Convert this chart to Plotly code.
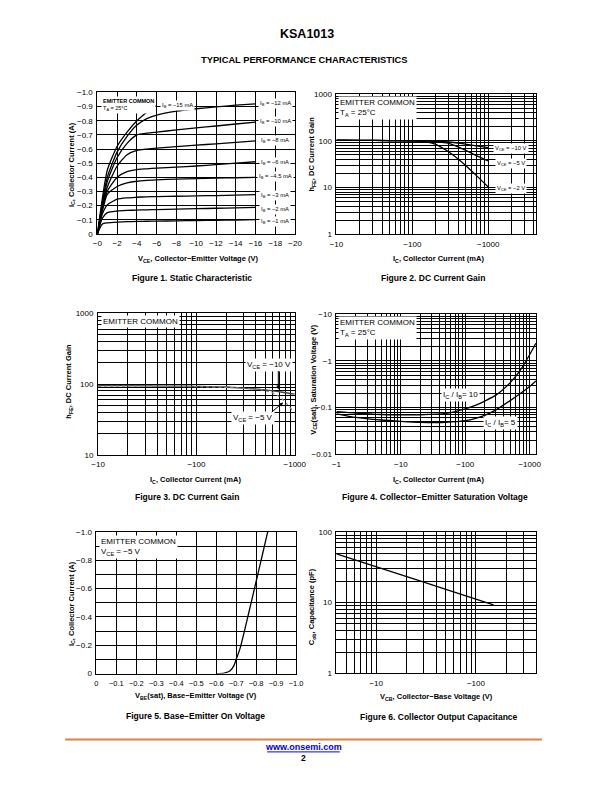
import plotly.graph_objects as go

FONT = "Liberation Sans, Arial, Helvetica, sans-serif"
W, H = 612, 792

# ---------------- DATA ----------------
# Figure 1: Static characteristic (V_CE in V, I_C in A)
f1_vce = [0, -0.5, -1, -2, -3, -4, -5, -6, -8, -10, -12, -14, -16]
f1_ic_12 = [0, -0.22, -0.40, -0.58, -0.69, -0.77, -0.815, -0.84, -0.868, -0.885, -0.898, -0.91, -0.92]
f1_ic_10 = [0, -0.20, -0.37, -0.54, -0.64, -0.70, -0.712, -0.72, -0.735, -0.75, -0.763, -0.777, -0.79]
f1_ic_8 = [0, -0.19, -0.33, -0.48, -0.56, -0.59, -0.60, -0.607, -0.617, -0.627, -0.637, -0.647, -0.658]
f1_ic_6 = [0, -0.18, -0.30, -0.40, -0.44, -0.455, -0.46, -0.465, -0.472, -0.48, -0.49, -0.50, -0.51]
f1_ic_45 = [0, -0.16, -0.28, -0.335, -0.36, -0.372, -0.378, -0.382, -0.387, -0.391, -0.394, -0.397, -0.40]
f1_ic_3 = [0, -0.14, -0.205, -0.245, -0.255, -0.259, -0.262, -0.264, -0.266, -0.269, -0.271, -0.274, -0.277]
f1_ic_2 = [0, -0.11, -0.15, -0.162, -0.166, -0.168, -0.17, -0.172, -0.175, -0.178, -0.181, -0.184, -0.187]
f1_ic_1 = [0, -0.07, -0.078, -0.083, -0.086, -0.088, -0.089, -0.09, -0.092, -0.094, -0.096, -0.098, -0.10]
f1_vce_15 = [0, -0.5, -1, -2, -3, -4, -5, -6]
f1_ic_15 = [0, -0.25, -0.45, -0.62, -0.72, -0.80, -0.86, -0.91]
f1_labels = ["I<sub>B</sub> = \u221212 mA", "I<sub>B</sub> = \u221210 mA", "I<sub>B</sub> = \u22128 mA",
             "I<sub>B</sub> = \u22126 mA", "I<sub>B</sub> = \u22124.5 mA", "I<sub>B</sub> = \u22123 mA",
             "I<sub>B</sub> = \u22122 mA", "I<sub>B</sub> = \u22121 mA"]
f1_label_15 = "I<sub>B</sub> = \u221215 mA"
f1_xticks = [0, -2, -4, -6, -8, -10, -12, -14, -16, -18, -20]
f1_xtext = ["\u22120", "\u22122", "\u22124", "\u22126", "\u22128", "\u221210", "\u221212", "\u221214", "\u221216", "\u221218", "\u221220"]
f1_yticks = [-1.0, -0.9, -0.8, -0.7, -0.6, -0.5, -0.4, -0.3, -0.2, -0.1, 0]
f1_ytext = ["\u22121.0", "\u22120.9", "\u22120.8", "\u22120.7", "\u22120.6", "\u22120.5", "\u22120.4", "\u22120.3", "\u22120.2", "\u22120.1", "0"]

# Figure 2: DC current gain (I_C in mA)
f2_ic = [-10, -20, -50, -100, -150, -200, -300, -500, -700, -1000]
f2_hfe_10 = [103, 102, 101, 100, 99, 98, 94, 85, 78, 71]
f2_hfe_5 = [103, 102, 101, 100, 99, 96, 88, 63, 48, 37]
f2_hfe_2 = [103, 102, 101, 99, 95, 85, 58, 30, 18, 10.3]
f2_labels = ["V<sub>CE</sub> = \u221210 V", "V<sub>CE</sub> = \u22125 V", "V<sub>CE</sub> = \u22122 V"]
f2_xticks = [10, 100, 1000]
f2_xtext = ["\u221210", "\u2212100", "\u22121000"]
f2_yticks = [1, 10, 100, 1000]
f2_ytext = ["1", "10", "100", "1000"]

# Figure 3: DC current gain
f3_ic_10 = [-10, -20, -50, -100, -200, -300, -500, -700, -1000]
f3_hfe_10 = [95, 95, 94, 93, 91, 88, 83, 78, 72]
f3_ic_5 = [-10, -20, -50, -100, -200, -300, -500, -700, -950]
f3_hfe_5 = [93, 94, 93, 92, 90, 87, 81, 66, 42]
f3_labels = ["V<sub>CE</sub> = \u221210 V", "V<sub>CE</sub> = \u22125 V"]
f3_xticks = [10, 100, 1000]
f3_xtext = ["\u221210", "\u2212100", "\u22121000"]
f3_yticks = [10, 100, 1000]
f3_ytext = ["10", "100", "1000"]

# Figure 4: Collector-emitter saturation voltage (V)
f4_ic = [-1, -2, -5, -10, -20, -50, -100, -150, -200, -300, -500, -700, -1000, -1250]
f4_vsat_10 = [-0.082, -0.076, -0.071, -0.070, -0.070, -0.075, -0.094, -0.114, -0.138, -0.185, -0.343, -0.605, -1.36, -2.4]
f4_vsat_5 = [-0.0735, -0.0615, -0.054, -0.0506, -0.0482, -0.0482, -0.0522, -0.0596, -0.0678, -0.0893, -0.141, -0.195, -0.282, -0.372]
f4_labels = ["I<sub>C</sub> / I<sub>B</sub>= 10", "I<sub>C</sub> / I<sub>B</sub>= 5"]
f4_xticks = [1, 10, 100, 1000]
f4_xtext = ["\u22121", "\u221210", "\u2212100", "\u22121000"]
f4_yticks = [0.01, 0.1, 1, 10]
f4_ytext = ["\u22120.01", "\u22120.1", "\u22121", "\u221210"]

# Figure 5: Base-emitter on voltage
f5_vbe = [-0.60, -0.64, -0.67, -0.69, -0.70, -0.72, -0.76, -0.80, -0.83, -0.858]
f5_ic = [0.0, -0.004, -0.02, -0.06, -0.10, -0.18, -0.41, -0.65, -0.83, -1.0]
f5_xticks = [0, -0.1, -0.2, -0.3, -0.4, -0.5, -0.6, -0.7, -0.8, -0.9, -1.0]
f5_xtext = ["0", "\u22120.1", "\u22120.2", "\u22120.3", "\u22120.4", "\u22120.5", "\u22120.6", "\u22120.7", "\u22120.8", "\u22120.9", "\u22121.0"]
f5_yticks = [-1.0, -0.8, -0.6, -0.4, -0.2, 0]
f5_ytext = ["\u22121.0", "\u22120.8", "\u22120.6", "\u22120.4", "\u22120.2", "0"]
f5_ygrid = [-0.9, -0.7, -0.5, -0.3, -0.1]

# Figure 6: Collector output capacitance
f6_vcb = [-4, -10, -20, -30, -50, -100, -150]
f6_cob = [49, 32.5, 23.5, 19.5, 15.4, 11.3, 9.3]
f6_xticks = [10, 100]
f6_xtext = ["\u221210", "\u2212100"]
f6_yticks = [1, 10, 100]
f6_ytext = ["1", "10", "100"]


# ---------------- HELPERS ----------------
def log_grid(e0, e1, extra=()):
    vals = []
    for e in range(e0, e1):
        for d in range(2, 10):
            vals.append(d * 10 ** e)
    vals.extend(extra)
    return vals


def px_x(p):
    return p / W


def px_y(p):
    return 1 - p / H


def axis(domain, rng, typ, tickvals, ticktext, anchor, minor_vals=None, size=8):
    d = dict(domain=domain, range=rng, type=typ, tickmode="array", tickvals=tickvals,
             ticktext=ticktext, showgrid=True, gridcolor="black", gridwidth=1, showline=True,
             linecolor="black", linewidth=1, mirror=True, ticks="", zeroline=False,
             tickfont=dict(size=size, color="black", family=FONT), anchor=anchor,
             fixedrange=True, ticklabelstandoff=2)
    if minor_vals:
        d["minor"] = dict(tickmode="array", tickvals=minor_vals, showgrid=True,
                          gridcolor="black", gridwidth=1, ticks="")
    return d


fig = go.Figure()
line_k = dict(color="black", width=1.3, shape="spline", smoothing=0.6)

# Figure 1 traces
for ys in [f1_ic_12, f1_ic_10, f1_ic_8, f1_ic_6, f1_ic_45, f1_ic_3, f1_ic_2, f1_ic_1]:
    fig.add_trace(go.Scatter(x=f1_vce, y=ys, mode="lines", line=line_k, xaxis="x", yaxis="y"))
fig.add_trace(go.Scatter(x=f1_vce_15, y=f1_ic_15, mode="lines", line=line_k, xaxis="x", yaxis="y"))

# Figure 2 traces (log axis -> magnitudes)
for ys in [f2_hfe_10, f2_hfe_5, f2_hfe_2]:
    fig.add_trace(go.Scatter(x=[abs(v) for v in f2_ic], y=ys, mode="lines", line=line_k,
                             xaxis="x2", yaxis="y2"))

# Figure 3 traces
fig.add_trace(go.Scatter(x=[abs(v) for v in f3_ic_10], y=f3_hfe_10, mode="lines",
                         line=dict(color="#444444", width=1.3, shape="spline"), xaxis="x3", yaxis="y3"))
fig.add_trace(go.Scatter(x=[abs(v) for v in f3_ic_5], y=f3_hfe_5, mode="lines",
                         line=dict(color="#888888", width=1.2, dash="dot", shape="spline"), xaxis="x3", yaxis="y3"))

# Figure 4 traces
for ys in [f4_vsat_10, f4_vsat_5]:
    fig.add_trace(go.Scatter(x=[abs(v) for v in f4_ic], y=[abs(v) for v in ys], mode="lines",
                             line=line_k, xaxis="x4", yaxis="y4"))

# Figure 5 trace
fig.add_trace(go.Scatter(x=f5_vbe, y=f5_ic, mode="lines", line=line_k, xaxis="x5", yaxis="y5"))

# Figure 6 trace
fig.add_trace(go.Scatter(x=[abs(v) for v in f6_vcb], y=f6_cob, mode="lines",
                         line=dict(color="black", width=1.3), xaxis="x6", yaxis="y6"))

# plot-area pixel boxes
B1 = (93.3, 297.3, 89.5, 232.5)
B2 = (340, 546, 91, 233)
B3 = (94, 297, 313, 456)
B4 = (340, 546, 314, 455.3)
B5 = (92.3, 298.3, 534, 677.3)
B6 = (340, 546, 534, 677)


def dom(b):
    return [px_x(b[0]), px_x(b[1])], [px_y(b[3]), px_y(b[2])]


d1x, d1y = dom(B1)
d2x, d2y = dom(B2)
d3x, d3y = dom(B3)
d4x, d4y = dom(B4)
d5x, d5y = dom(B5)
d6x, d6y = dom(B6)

fig.update_layout(
    xaxis=axis(d1x, [0, -20], "linear", f1_xticks, f1_xtext, "y"),
    yaxis=axis(d1y, [0, -1.0], "linear", f1_yticks, f1_ytext, "x"),
    xaxis2=axis(d2x, [1, 3.63], "log", f2_xticks, f2_xtext, "y2", log_grid(1, 3, (2000, 3000, 4000))),
    yaxis2=axis(d2y, [0, 3], "log", f2_yticks, f2_ytext, "x2", log_grid(0, 3)),
    xaxis3=axis(d3x, [1, 3], "log", f3_xticks, f3_xtext, "y3", log_grid(1, 3)),
    yaxis3=axis(d3y, [1, 3], "log", f3_yticks, f3_ytext, "x3", log_grid(1, 3)),
    xaxis4=axis(d4x, [0, 3.1], "log", f4_xticks, f4_xtext, "y4", log_grid(0, 3)),
    yaxis4=axis(d4y, [-2, 1], "log", f4_yticks, f4_ytext, "x4", log_grid(-2, 1)),
    xaxis5=axis(d5x, [0, -1.0], "linear", f5_xticks, f5_xtext, "y5", size=7.5),
    yaxis5=axis(d5y, [0, -1.0], "linear", f5_yticks, f5_ytext, "x5", f5_ygrid),
    xaxis6=axis(d6x, [0.60206, 2.60206], "log", f6_xticks, f6_xtext, "y6", log_grid(0, 2, (200, 300, 400))),
    yaxis6=axis(d6y, [0, 2], "log", f6_yticks, f6_ytext, "x6", log_grid(0, 2)),
)

# ---------------- TEXT ----------------
ann = []


def T(text, x, y, size=8, bold=False, xanchor="center", yanchor="middle", angle=0,
      bg=None, color="black", align="center"):
    if bold:
        text = "<b>" + text + "</b>"
    d = dict(text=text, x=px_x(x), y=px_y(y), xref="paper", yref="paper", showarrow=False,
             xanchor=xanchor, yanchor=yanchor, textangle=angle, align=align,
             font=dict(family=FONT, size=size, color=color))
    if bg:
        d.update(bgcolor=bg, borderpad=1)
    ann.append(d)


def A(x0, y0, x1, y1):
    # arrow from (x0,y0) tail to (x1,y1) head, pixel coordinates
    ann.append(dict(text="", x=px_x(x1), y=px_y(y1), xref="paper", yref="paper",
                    ax=x0 - x1, ay=y0 - y1, showarrow=True, arrowhead=2, arrowsize=0.8,
                    arrowwidth=1, arrowcolor="black"))


T("KSA1013", 310, 30, size=12.5, bold=True)
T("TYPICAL PERFORMANCE CHARACTERISTICS", 306, 57, size=9.3, bold=True)

# Figure 1
T("<b>EMITTER COMMON</b><br>T<sub>A</sub> = 25°C", 97.5, 93, size=5.5, xanchor="left",
  yanchor="top", bg="white", align="left")
lab_y = [100.7, 119.3, 138.3, 160.7, 174.3, 194, 207.7, 220]
for t, yy in zip(f1_labels, lab_y):
    T(t, 277, yy, size=5.8, bg="white")
T(f1_label_15, 176, 103, size=5.8, bg="white")
T("V<sub>CE</sub>, Collector\u2212Emitter Voltage (V)", 197, 258, size=7.5, bold=True)
T("I<sub>C</sub>, Collector Current (A)", 67, 162, size=7.5, bold=True, angle=-90)
T("Figure 1. Static Characteristic", 191, 277, size=8.5, bold=True)

# Figure 2
T("EMITTER COMMON<br>T<sub>A</sub> = 25°C", 342, 93, size=8, xanchor="left", yanchor="top",
  bg="white", align="left")
for t, yy in zip(f2_labels, [146, 161, 187]):
    T(t, 520, yy, size=5.8, bg="white")
T("I<sub>C</sub>, Collector Current (mA)", 445, 258, size=7.5, bold=True)
T("h<sub>FE</sub>, DC Current Gain", 315, 152, size=7.5, bold=True, angle=-90)
T("Figure 2. DC Current Gain", 440, 277, size=8.5, bold=True)

# Figure 3
T("EMITTER COMMON", 97, 321, size=8, xanchor="left", bg="white")
T(f3_labels[0], 270, 365, size=8, bg="white")
T(f3_labels[1], 254, 419, size=8, bg="white")
A(280, 370, 280, 390)
A(272, 414, 285, 403)
T("I<sub>C</sub>, Collector Current (mA)", 195, 481, size=7.5, bold=True)
T("h<sub>FE</sub>, DC Current Gain", 64, 382, size=7.5, bold=True, angle=-90)
T("Figure 3. DC Current Gain", 186, 499, size=8.5, bold=True)

# Figure 4
T("EMITTER COMMON<br>T<sub>A</sub> = 25°C", 342, 316, size=8, xanchor="left", yanchor="top",
  bg="white", align="left")
T(f4_labels[0], 468, 395, size=8, bg="white")
T(f4_labels[1], 509, 424, size=8, bg="white")
T("I<sub>C</sub>, Collector Current (mA)", 445, 481, size=7.5, bold=True)
T("V<sub>CE</sub>(sat), Saturation Voltage (V)", 316, 380, size=7.5, bold=True, angle=-90)
T("Figure 4. Collector\u2212Emitter Saturation Voltage", 442, 499, size=8.5, bold=True)

# Figure 5
T("EMITTER COMMON<br>V<sub>CE</sub> = \u22125 V", 95, 537, size=8, xanchor="left", yanchor="top",
  bg="white", align="left")
T("V<sub>BE</sub>(sat), Base\u2212Emitter Voltage (V)", 195, 700, size=7.5, bold=True)
T("I<sub>C</sub>, Collector Current (A)", 67, 606, size=7.5, bold=True, angle=-90)
T("Figure 5. Base\u2212Emitter On Voltage", 195, 720, size=8.5, bold=True)

# Figure 6
T("V<sub>CB</sub>, Collector\u2212Base Voltage (V)", 443, 701, size=7.5, bold=True)
T("C<sub>ob</sub>, Capacitance (pF)", 315, 610, size=7.5, bold=True, angle=-90)
T("Figure 6. Collector Output Capacitance", 446, 721, size=8.5, bold=True)

# Footer
T("www.onsemi.com", 306, 752, size=9, bold=True, color="#0000EE")
T("2", 306, 762.5, size=8.5, bold=True)

shapes = [
    dict(type="line", xref="paper", yref="paper", x0=px_x(60), x1=px_x(552),
         y0=px_y(744), y1=px_y(744), line=dict(color="#E0823C", width=2)),
    dict(type="line", xref="paper", yref="paper", x0=px_x(268.5), x1=px_x(343.5),
         y0=px_y(756.5), y1=px_y(756.5), line=dict(color="#0000EE", width=1)),
]

fig.update_layout(
    width=W, height=H, margin=dict(l=0, r=0, t=0, b=0), showlegend=False,
    paper_bgcolor="white", plot_bgcolor="white", annotations=ann, shapes=shapes,
    font=dict(family=FONT, color="black"),
)

fig.write_html("out.html", include_plotlyjs=True, config={"displayModeBar": False},
               post_script="document.body.style.margin='0';document.body.style.padding='0';"
                           "document.documentElement.style.overflow='hidden';")
